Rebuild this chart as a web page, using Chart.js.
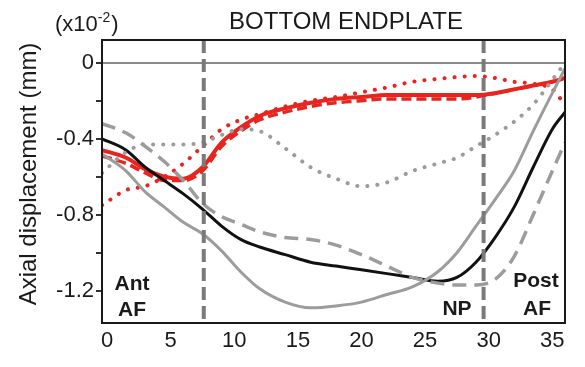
<!DOCTYPE html>
<html>
<head>
<meta charset="utf-8">
<script src="https://cdn.jsdelivr.net/npm/chart.js@4"></script>
<style>
  html, body { margin: 0; padding: 0; background: #fff; }
  #wrap { width: 585px; height: 367px; }
</style>
</head>
<body>
<div id="wrap"><canvas id="chart" width="585" height="367"></canvas></div>
<script>
// positions along the endplate (mm) shared by all curves
var xs = [-0.4, 1.5, 3, 4.5, 6, 7.5, 9, 10.5, 12, 14, 16, 18, 20, 22, 24, 26, 27.5, 29, 30.5, 32, 33.5, 35, 36];

var blackSolid = [-0.40, -0.46, -0.55, -0.62, -0.69, -0.77, -0.86, -0.93, -0.97, -1.01, -1.05, -1.07, -1.09, -1.11, -1.13, -1.15, -1.13, -1.05, -0.92, -0.76, -0.55, -0.35, -0.26];
var graySolid  = [-0.48, -0.57, -0.68, -0.76, -0.84, -0.90, -0.99, -1.10, -1.19, -1.26, -1.29, -1.28, -1.26, -1.22, -1.18, -1.10, -1.00, -0.86, -0.72, -0.57, -0.36, -0.16, -0.03];
var grayDashed = [-0.32, -0.37, -0.44, -0.52, -0.62, -0.74, -0.81, -0.85, -0.89, -0.92, -0.93, -0.96, -1.01, -1.07, -1.13, -1.16, -1.17, -1.17, -1.14, -1.02, -0.80, -0.57, -0.42];
var grayDotted = [-0.58, -0.47, -0.43, -0.43, -0.43, -0.42, -0.38, -0.35, -0.36, -0.45, -0.55, -0.61, -0.65, -0.63, -0.57, -0.53, -0.50, -0.44, -0.38, -0.31, -0.22, -0.09, 0.0];
var redSolid   = [-0.46, -0.50, -0.56, -0.60, -0.61, -0.55, -0.42, -0.34, -0.28, -0.24, -0.21, -0.19, -0.18, -0.17, -0.17, -0.17, -0.17, -0.17, -0.16, -0.14, -0.12, -0.10, -0.08];
var redDashed  = [-0.49, -0.53, -0.58, -0.62, -0.62, -0.57, -0.44, -0.36, -0.30, -0.26, -0.23, -0.21, -0.20, -0.19, -0.19, -0.19, -0.19, -0.18, -0.16, -0.14, -0.12, -0.10, -0.08];
var redDotted  = [-0.75, -0.67, -0.65, -0.60, -0.53, -0.44, -0.35, -0.30, -0.27, -0.23, -0.20, -0.18, -0.155, -0.13, -0.10, -0.085, -0.075, -0.07, -0.08, -0.10, -0.11, -0.14, -0.22];

var xTicks = [0, 5, 10, 15, 20, 25, 30, 35];
var yLabelled = [0, -0.4, -0.8, -1.2];
var dividers = [7.6, 29.6];   // Ant AF | NP | Post AF boundaries

var RED = '#e8241e';
var GRAY = '#9c9c9c';

function pts(ys) {
  return xs.map(function (x, i) { return {x: x, y: ys[i]}; });
}
function line(ys, color, width, dash, cap) {
  return {
    data: pts(ys),
    borderColor: color,
    borderWidth: width,
    borderDash: dash || [],
    borderCapStyle: cap || 'butt',
    pointRadius: 0,
    fill: false,
    cubicInterpolationMode: 'monotone'
  };
}

var overlay = {
  id: 'overlay',
  afterDatasetsDraw: function (chart) {
    var ctx = chart.ctx, a = chart.chartArea, sx = chart.scales.x;
    ctx.save();
    // region boundaries
    ctx.strokeStyle = '#7a7a7a';
    ctx.lineWidth = 4;
    ctx.setLineDash([13, 6]);
    dividers.forEach(function (d) {
      var px = sx.getPixelForValue(d);
      ctx.beginPath();
      ctx.moveTo(px, a.top);
      ctx.lineTo(px, a.bottom);
      ctx.stroke();
    });
    ctx.setLineDash([]);
    // frame
    ctx.strokeStyle = '#1a1a1a';
    ctx.lineWidth = 2;
    ctx.strokeRect(a.left, a.top, a.right - a.left, a.bottom - a.top);

    // region labels
    ctx.fillStyle = '#1a1a1a';
    ctx.font = 'bold 21px "Liberation Sans", Arial, sans-serif';
    ctx.textAlign = 'center';
    ctx.textBaseline = 'alphabetic';
    ctx.fillText('Ant', 132, 290);
    ctx.fillText('AF', 132, 316);
    ctx.fillText('NP', 457, 315);
    ctx.fillText('Post', 536, 287);
    ctx.fillText('AF', 537, 315);

    // title
    ctx.font = '24px "Liberation Sans", Arial, sans-serif';
    ctx.fillText('BOTTOM ENDPLATE', 346, 29);

    // multiplier
    ctx.textAlign = 'left';
    ctx.font = '22px "Liberation Sans", Arial, sans-serif';
    ctx.fillText('(x10', 55, 31);
    var w = ctx.measureText('(x10').width;
    ctx.font = '14px "Liberation Sans", Arial, sans-serif';
    ctx.fillText('-2', 55 + w, 22);
    var w2 = ctx.measureText('-2').width;
    ctx.font = '22px "Liberation Sans", Arial, sans-serif';
    ctx.fillText(')', 55 + w + w2 + 1, 31);

    // y axis title
    ctx.translate(36, 174);
    ctx.rotate(-Math.PI / 2);
    ctx.textAlign = 'center';
    ctx.font = '24px "Liberation Sans", Arial, sans-serif';
    ctx.fillText('Axial displacement (mm)', 0, 0);
    ctx.restore();
  }
};

new Chart(document.getElementById('chart'), {
  type: 'line',
  data: {
    datasets: [
      line(grayDotted, GRAY, 4, [0.1, 10], 'round'),
      line(grayDashed, GRAY, 3.5, [14, 8]),
      line(graySolid, GRAY, 3),
      line(blackSolid, '#111', 3),
      line(redDotted, RED, 4, [0.1, 10], 'round'),
      line(redDashed, RED, 3.5, [10, 5]),
      line(redSolid, RED, 4)
    ]
  },
  options: {
    responsive: false,
    animation: false,
    layout: { padding: { left: 0, right: 20, top: 40, bottom: 0 } },
    plugins: { legend: { display: false }, tooltip: { enabled: false } },
    scales: {
      x: {
        type: 'linear',
        min: -0.4,
        max: 36,
        afterFit: function (s) { s.height = 44; },
        afterBuildTicks: function (s) { s.ticks = xTicks.map(function (v) { return {value: v}; }); },
        grid: { display: false },
        border: { display: false },
        ticks: {
          color: '#1a1a1a',
          padding: -3,
          maxRotation: 0,
          font: { family: '"Liberation Sans", Arial, sans-serif', size: 22 }
        }
      },
      y: {
        min: -1.37,
        max: 0.12,
        afterFit: function (s) { s.width = 102; },
        grid: {
          color: function (c) { return c.tick && Math.abs(c.tick.value) < 1e-6 ? '#8a8a8a' : 'rgba(0,0,0,0)'; },
          lineWidth: 2,
          drawTicks: true,
          tickLength: 6,
          tickColor: '#333',
          tickWidth: 2
        },
        border: { display: false },
        ticks: {
          stepSize: 0.2,
          includeBounds: false,
          color: '#1a1a1a',
          padding: 2,
          font: { family: '"Liberation Sans", Arial, sans-serif', size: 22 },
          callback: function (v) {
            var hit = yLabelled.some(function (l) { return Math.abs(l - v) < 1e-6; });
            if (!hit) return '';
            return Math.abs(v) < 1e-6 ? '0' : v.toFixed(1);
          }
        }
      }
    }
  },
  plugins: [overlay]
});
</script>
</body>
</html>
